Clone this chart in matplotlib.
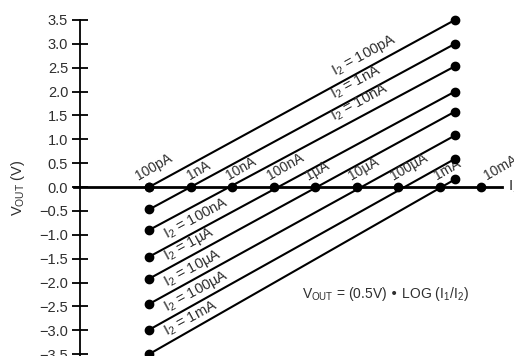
import numpy as np
import matplotlib
matplotlib.use("Agg")
import matplotlib.pyplot as plt

plt.rcParams['font.family'] = ['Liberation Sans', 'DejaVu Sans']
plt.rcParams['mathtext.default'] = 'regular'

# Input current I1 marked along the V = 0 axis
i1_axis = [1e-10, 1e-9, 1e-8, 1e-7, 1e-6, 1e-5, 1e-4, 1e-3, 1e-2]
i1_labels = ['100pA', '1nA', '10nA', '100nA', '1µA', '10µA', '100µA', '1mA', '10mA']

# One transfer line per reference current I2
i2_labels = ['100pA', '1nA', '10nA', '100nA', '1µA', '10µA', '100µA', '1mA']
i1_start = 1e-10
i1_end = 2.35e-3
v_start = [0.0, -0.47, -0.90, -1.46, -1.92, -2.45, -2.99, -3.50]
v_end = [3.50, 3.00, 2.53, 2.00, 1.58, 1.08, 0.59, 0.16]

y_ticks = [3.5, 3.0, 2.5, 2.0, 1.5, 1.0, 0.5, 0.0, -0.5, -1.0, -1.5, -2.0, -2.5, -3.0, -3.5]

TXT = '#2e2e2e'

fig = plt.figure(figsize=(5.14, 3.56), dpi=100)
ax = fig.add_axes([0, 0, 1, 1])
ax.set_xscale('log')
ax.set_xlim(10 ** -13.594, 10 ** -1.205)
ax.set_ylim(-3.539, 3.918)
ax.patch.set_alpha(0)

# Axes: vertical V_OUT axis and the horizontal I1 axis through V = 0
y_axis_x = 2.16e-12
for s in ('top', 'right'):
    ax.spines[s].set_visible(False)
ax.spines['left'].set_position(('data', y_axis_x))
ax.spines['left'].set_bounds(-3.6, 3.5)
ax.spines['left'].set_linewidth(1.3)
ax.spines['bottom'].set_position(('data', 0.0))
ax.spines['bottom'].set_bounds(1.55e-12, 3.2e-2)
ax.spines['bottom'].set_linewidth(2.0)
ax.set_xticks([])
ax.xaxis.set_minor_locator(matplotlib.ticker.NullLocator())
ax.set_yticks(y_ticks)
ax.set_yticklabels([f'{v:.1f}'.replace('-', '\u2212') for v in y_ticks])
ax.tick_params(axis='y', direction='inout', length=11, width=1.3,
               pad=3, labelsize=10.5, labelcolor=TXT)

fig.text(18 / 514, 1 - 188 / 356, r'$V_{OUT}$ (V)', rotation=90,
         ha='center', va='center', fontsize=10.5, color=TXT)

# Transfer lines with end dots
for k in range(len(i2_labels)):
    ax.plot([i1_start, i1_end], [v_start[k], v_end[k]], color='black',
            lw=1.5, solid_capstyle='butt', zorder=3)
    ax.plot([i1_start, i1_end], [v_start[k], v_end[k]], 'o', color='black',
            ms=6, zorder=4)

# Dots on the I1 axis and their rotated labels
ax.plot(i1_axis, np.zeros(len(i1_axis)), 'o', color='black', ms=6, zorder=4)
nudge = [-11, -1, -3, -4, -7, -5, -5, -3, 6]
for x, lab, dx in zip(i1_axis, i1_labels, nudge):
    ax.annotate(lab, (x, 0), xytext=(dx, 7), textcoords='offset pixels',
                ha='left', va='baseline', rotation=30, rotation_mode='anchor',
                fontsize=10, color=TXT)

ax.text(10 ** -1.35, 0, r'$I_1$', ha='left', va='center', fontsize=11, color=TXT)

# I2 labels lying along their lines
p0 = ax.transData.transform((i1_start, v_start[0]))
p1 = ax.transData.transform((i1_end, v_end[0]))
angle = np.degrees(np.arctan2(p1[1] - p0[1], p1[0] - p0[0]))
lx = np.log10([i1_start, i1_end])
for k, lab in enumerate(i2_labels):
    if k < 3:
        xl, off = 2.9e-6, 10
    else:
        xl, off = 2.7e-10, 8
    yl = np.interp(np.log10(xl), lx, [v_start[k], v_end[k]])
    ax.annotate(r'$I_2$ = ' + lab, (xl, yl), xytext=(0, off),
                textcoords='offset pixels', ha='left', va='baseline',
                rotation=angle, rotation_mode='anchor', fontsize=10.5, color=TXT)

fig.text(302 / 514, 1 - 298 / 356, r'$V_{OUT}$ = (0.5V) • LOG ($I_1$/$I_2$)',
         ha='left', va='baseline', fontsize=10, color=TXT)

fig.savefig('out.png', dpi=100)
